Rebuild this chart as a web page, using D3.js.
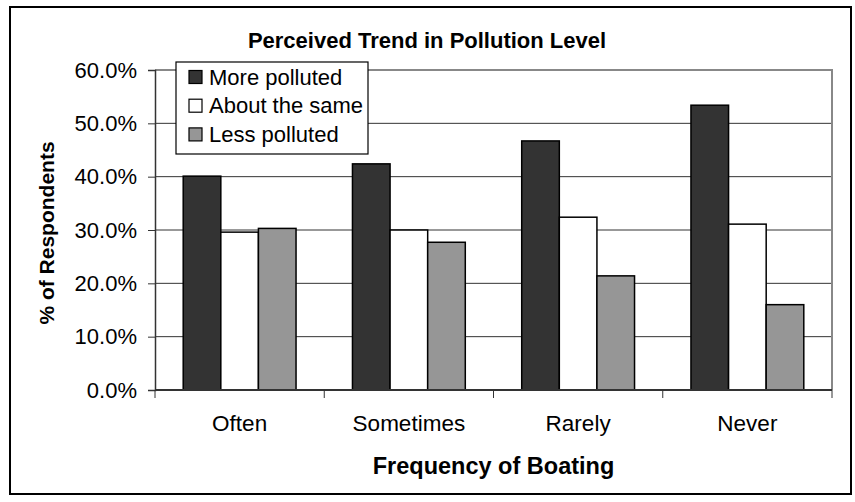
<!DOCTYPE html>
<html>
<head>
<meta charset="utf-8">
<script src="https://cdn.jsdelivr.net/npm/d3@7"></script>
<style>
  body { margin: 0; background: #fff; }
  text { font-family: "Liberation Sans", Arial, sans-serif; }
</style>
</head>
<body>
<div id="chart"></div>
<script>
// data
const categories = ["Often", "Sometimes", "Rarely", "Never"];
const seriesNames = ["More polluted", "About the same", "Less polluted"];
const morePolluted = [40.1, 42.4, 46.7, 53.4];
const aboutSame = [29.6, 30.0, 32.4, 31.1];
const lessPolluted = [30.3, 27.7, 21.4, 16.0];
const yTicks = [0, 10, 20, 30, 40, 50, 60];

const colors = { "More polluted": "#333333", "About the same": "#ffffff", "Less polluted": "#969696" };
const seriesValues = [morePolluted, aboutSame, lessPolluted];

const W = 855, H = 502;
const plot = { left: 155, right: 832, top: 70, bottom: 390 };

const svg = d3.select("#chart").append("svg")
    .attr("width", W)
    .attr("height", H);

// outer frame
svg.append("rect")
    .attr("x", 10).attr("y", 7)
    .attr("width", 841).attr("height", 487)
    .attr("fill", "#fff")
    .attr("stroke", "#000")
    .attr("stroke-width", 2);

// scales
const x0 = d3.scaleBand()
    .domain(categories)
    .range([plot.left, plot.right])
    .padding(0);

const x1 = d3.scaleBand()
    .domain(seriesNames)
    .range([0, x0.bandwidth()])
    .paddingInner(0)
    .paddingOuter(0.75);

const y = d3.scaleLinear()
    .domain([0, 60])
    .range([plot.bottom, plot.top]);

// gridlines
svg.append("g")
    .selectAll("line")
    .data(yTicks.filter(d => d > 0 && d < 60))
    .enter()
    .append("line")
    .attr("x1", plot.left).attr("x2", plot.right)
    .attr("y1", d => y(d)).attr("y2", d => y(d))
    .attr("stroke", "#333")
    .attr("stroke-width", 1);

// plot border (top / right)
svg.append("path")
    .attr("d", `M${plot.left},${plot.top}H${plot.right}V${plot.bottom}`)
    .attr("fill", "none")
    .attr("stroke", "#888")
    .attr("stroke-width", 2);

// bars
const rows = [];
categories.forEach((c, i) => {
    seriesNames.forEach((s, j) => rows.push({ cat: c, series: s, value: seriesValues[j][i] }));
});

svg.append("g")
    .selectAll("rect")
    .data(rows)
    .enter()
    .append("rect")
    .attr("x", d => x0(d.cat) + x1(d.series))
    .attr("y", d => y(d.value))
    .attr("width", x1.bandwidth())
    .attr("height", d => y(0) - y(d.value))
    .attr("fill", d => colors[d.series])
    .attr("stroke", "#000")
    .attr("stroke-width", 1.5);

// y axis
const yAxis = svg.append("g")
    .attr("transform", `translate(${plot.left},0)`)
    .call(d3.axisLeft(y).tickValues(yTicks).tickSize(7).tickPadding(11)
        .tickFormat(d => d.toFixed(1) + "%"));
yAxis.select(".domain").attr("stroke", "#333").attr("stroke-width", 1.5);
yAxis.selectAll(".tick line").attr("stroke", "#333");
yAxis.selectAll("text")
    .attr("font-size", "22px")
    .attr("fill", "#000")
    .style("font-family", "'Liberation Sans', Arial, sans-serif");

// x axis: labels centred, ticks at category boundaries
const xAxis = svg.append("g")
    .attr("transform", `translate(0,${plot.bottom})`)
    .call(d3.axisBottom(x0).tickSize(0).tickPadding(25));
xAxis.select(".domain").remove();
xAxis.selectAll("text")
    .attr("font-size", "22.5px")
    .attr("fill", "#000")
    .style("font-family", "'Liberation Sans', Arial, sans-serif");

svg.append("line")
    .attr("x1", plot.left).attr("x2", plot.right)
    .attr("y1", plot.bottom).attr("y2", plot.bottom)
    .attr("stroke", "#333").attr("stroke-width", 2);

const bounds = categories.map(c => x0(c)).concat([x0.range()[1]]);
svg.append("g")
    .selectAll("line")
    .data(bounds)
    .enter()
    .append("line")
    .attr("x1", d => d).attr("x2", d => d)
    .attr("y1", plot.bottom).attr("y2", plot.bottom + 8)
    .attr("stroke", "#333");

// titles
svg.append("text")
    .attr("x", 427)
    .attr("y", 48)
    .attr("text-anchor", "middle")
    .attr("font-size", "22px")
    .attr("font-weight", "bold")
    .text("Perceived Trend in Pollution Level");

svg.append("text")
    .attr("x", (plot.left + plot.right) / 2)
    .attr("y", 474)
    .attr("text-anchor", "middle")
    .attr("font-size", "23.5px")
    .attr("font-weight", "bold")
    .text("Frequency of Boating");

svg.append("text")
    .attr("transform", `translate(54,${(plot.top + plot.bottom) / 2 + 3}) rotate(-90)`)
    .attr("text-anchor", "middle")
    .attr("font-size", "21px")
    .attr("font-weight", "bold")
    .text("% of Respondents");

// legend
const legend = svg.append("g").attr("transform", "translate(176,62)");
legend.append("rect")
    .attr("width", 192).attr("height", 92)
    .attr("fill", "#fff")
    .attr("stroke", "#000")
    .attr("stroke-width", 1.2);

const item = legend.selectAll(".item")
    .data(seriesNames)
    .enter()
    .append("g")
    .attr("class", "item")
    .attr("transform", (d, i) => `translate(13,${15 + i * 28.7})`);

item.append("rect")
    .attr("x", 0).attr("y", -6.5)
    .attr("width", 13).attr("height", 13)
    .attr("fill", d => colors[d])
    .attr("stroke", "#000")
    .attr("stroke-width", 1.2);

item.append("text")
    .attr("x", 20)
    .attr("y", 7.5)
    .attr("font-size", "22px")
    .text(d => d);
</script>
</body>
</html>
